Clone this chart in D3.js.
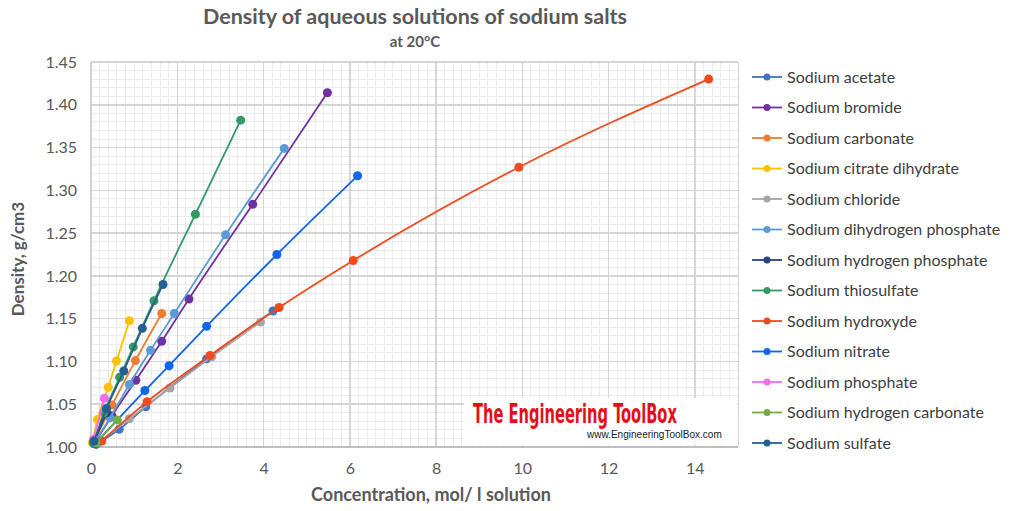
<!DOCTYPE html>
<html><head><meta charset="utf-8">
<script src="https://cdn.jsdelivr.net/npm/d3@7"></script>
<style>body{margin:0;background:#fff}svg{display:block}</style>
</head><body><svg id="c" width="1012" height="511"></svg>
<script>
const seriesNames = ["Sodium acetate","Sodium bromide","Sodium carbonate","Sodium citrate dihydrate","Sodium chloride","Sodium dihydrogen phosphate","Sodium hydrogen phosphate","Sodium thiosulfate","Sodium hydroxyde","Sodium nitrate","Sodium phosphate","Sodium hydrogen carbonate","Sodium sulfate"];
const seriesColors = ["#4472C4","#7030A0","#ED7D31","#FFC000","#A5A5A5","#5B9BD5","#264478","#339966","#F24A1B","#0F66E8","#F76BF0","#70AD47","#255E91"];
// concentration (mol/l solution)
const acetateX = [0.12,0.655,1.27,2.68,4.22];
const acetateY = [1.003,1.0207,1.047,1.103,1.159];
const bromideX = [0.1,0.485,1.04,1.64,2.27,3.75,5.48];
const bromideY = [1.006,1.0366,1.078,1.1235,1.173,1.2836,1.414];
const carbonateX = [0.09,0.49,1.03,1.64];
const carbonateY = [1.008,1.049,1.101,1.156];
const citrateX = [0.03,0.15,0.40,0.59,0.89];
const citrateY = [1.005,1.032,1.0697,1.1005,1.1476];
const chlorideX = [0.17,0.89,1.83,2.8,3.93];
const chlorideY = [1.005,1.033,1.069,1.1055,1.146];
const dihydrogenPhosX = [0.08,0.44,0.89,1.38,1.93,3.12,4.48];
const dihydrogenPhosY = [1.005,1.034,1.073,1.113,1.156,1.248,1.349];
const hydrogenPhosX = [0.07,0.36];
const hydrogenPhosY = [1.006,1.040];
const thiosulfateX = [0.06,0.3,0.665,0.98,1.46,2.42,3.47];
const thiosulfateY = [1.004,1.04,1.0814,1.117,1.171,1.272,1.382];
const hydroxydeX = [0.25,1.3,2.76,4.36,6.08,9.92,14.32];
const hydroxydeY = [1.007,1.053,1.107,1.163,1.218,1.327,1.43];
const nitrateX = [0.1,1.25,1.81,2.68,4.31,6.18];
const nitrateY = [1.004,1.066,1.095,1.141,1.225,1.317];
const phosphateX = [0.06,0.31];
const phosphateY = [1.009,1.057];
const hydrogenCarbX = [0.12,0.61];
const hydrogenCarbY = [1.005,1.0315];
const sulfateX = [0.07,0.36,0.76,1.19,1.67];
const sulfateY = [1.007,1.045,1.0888,1.1387,1.19];
const seriesX = [acetateX,bromideX,carbonateX,citrateX,chlorideX,dihydrogenPhosX,hydrogenPhosX,thiosulfateX,hydroxydeX,nitrateX,phosphateX,hydrogenCarbX,sulfateX];
const seriesY = [acetateY,bromideY,carbonateY,citrateY,chlorideY,dihydrogenPhosY,hydrogenPhosY,thiosulfateY,hydroxydeY,nitrateY,phosphateY,hydrogenCarbY,sulfateY];
const xTicks = [0,2,4,6,8,10,12,14];
const yTicks = [1.00,1.05,1.10,1.15,1.20,1.25,1.30,1.35,1.40,1.45];

const svg = d3.select("#c");
const L=91,R=738,T=62,B=447;
const x = d3.scaleLinear().domain([0,15]).range([L,R]);
const y = d3.scaleLinear().domain([1.00,1.45]).range([B,T]);
const font = "Lato, 'Open Sans', sans-serif";

// minor grid
const g = svg.append("g");
g.selectAll("line.mx").data(d3.range(0,15.001,0.2)).join("line")
 .attr("x1",d=>x(d)).attr("x2",d=>x(d)).attr("y1",T).attr("y2",B)
 .attr("stroke","#ECECEC").attr("stroke-width",1).attr("shape-rendering","crispEdges");
g.selectAll("line.my").data(d3.range(0,46).map(i=>1+i*0.01)).join("line")
 .attr("y1",d=>y(d)).attr("y2",d=>y(d)).attr("x1",L).attr("x2",R)
 .attr("stroke","#ECECEC").attr("stroke-width",1).attr("shape-rendering","crispEdges");
// major grid
g.selectAll("line.Mx").data(xTicks).join("line")
 .attr("x1",d=>x(d)).attr("x2",d=>x(d)).attr("y1",T).attr("y2",B)
 .attr("stroke","#D6D6D6").attr("stroke-width",1.5).attr("shape-rendering","crispEdges");
g.selectAll("line.My").data(yTicks).join("line")
 .attr("y1",d=>y(d)).attr("y2",d=>y(d)).attr("x1",L).attr("x2",R)
 .attr("stroke","#D6D6D6").attr("stroke-width",1.5).attr("shape-rendering","crispEdges");
svg.append("line").attr("x1",R).attr("x2",R).attr("y1",T).attr("y2",B).attr("stroke","#D6D6D6").attr("shape-rendering","crispEdges");
svg.append("line").attr("x1",L).attr("x2",R).attr("y1",B).attr("y2",B).attr("stroke","#BFBFBF").attr("stroke-width",1.5).attr("shape-rendering","crispEdges");
svg.append("line").attr("x1",L).attr("x2",L).attr("y1",T).attr("y2",B).attr("stroke","#D0D0D0").attr("stroke-width",1.5).attr("shape-rendering","crispEdges");

// watermark box
svg.append("rect").attr("x",464).attr("y",398).attr("width",R-464-1).attr("height",B-398-2).attr("fill","#fff");
function fitText(txt, x0, yBase, targetW, capSize, family, weight, fill){
  const t = svg.append("text").attr("font-family",family).attr("font-weight",weight).attr("font-size",capSize).attr("fill",fill).text(txt);
  const w = t.node().getComputedTextLength();
  const fs = capSize*targetW/w;
  t.attr("font-size",fs).attr("transform",`translate(${x0},${yBase}) scale(1,${capSize/fs})`);
  return t;
}
fitText("The Engineering ToolBox",473,423,204,27,"'Liberation Sans Narrow','DejaVu Sans Condensed',sans-serif","bold","#E3101A");
fitText("www.EngineeringToolBox.com",587,438,135,10,"'Liberation Sans',sans-serif","normal","#222");

// axes labels
const xa = d3.axisBottom(x).tickValues(xTicks).tickSize(0).tickPadding(16).tickFormat(d3.format("d"));
const xg = svg.append("g").attr("transform",`translate(0,${B})`).call(xa);
xg.select(".domain").remove();
xg.selectAll("text").attr("font-family",font).attr("font-size",16).attr("fill","#595959");
const ya = d3.axisLeft(y).tickValues(yTicks).tickSize(0).tickPadding(14).tickFormat(d3.format(".2f"));
const yg = svg.append("g").attr("transform",`translate(${L},0)`).call(ya);
yg.select(".domain").remove();
yg.selectAll("text").attr("font-family",font).attr("font-size",16).attr("fill","#595959");

// series
const line = d3.line().curve(d3.curveMonotoneX).x(d=>x(d[0])).y(d=>y(d[1]));
seriesNames.forEach((n,i)=>{
  const pts = seriesX[i].map((v,j)=>[v,seriesY[i][j]]);
  const sg = svg.append("g");
  sg.append("path").attr("d",line(pts)).attr("fill","none").attr("stroke",seriesColors[i]).attr("stroke-width",1.8);
  sg.selectAll("circle").data(pts).join("circle").attr("cx",d=>x(d[0])).attr("cy",d=>y(d[1])).attr("r",4.5).attr("fill",seriesColors[i]);
});

// titles
svg.append("text").attr("x",415).attr("y",24).attr("text-anchor","middle").attr("font-family",font).attr("font-weight","bold")
 .attr("font-size",21.5).attr("fill","#595959").text("Density of aqueous solutions of sodium salts");
svg.append("text").attr("x",415).attr("y",47).attr("text-anchor","middle").attr("font-family",font).attr("font-weight","bold")
 .attr("font-size",15).attr("fill","#595959").text("at 20°C");
svg.append("text").attr("transform","translate(24,259) rotate(-90)").attr("text-anchor","middle").attr("font-family",font).attr("font-weight","bold")
 .attr("font-size",17).attr("fill","#595959").text("Density, g/cm3");
svg.append("text").attr("x",431).attr("y",501).attr("text-anchor","middle").attr("font-family",font).attr("font-weight","bold")
 .attr("font-size",18).attr("fill","#595959").text("Concentration,  mol/ l solution");

// legend
const lg = svg.append("g");
seriesNames.forEach((n,i)=>{
  const yy = 77 + i*30.5;
  lg.append("line").attr("x1",752).attr("x2",782).attr("y1",yy).attr("y2",yy).attr("stroke",seriesColors[i]).attr("stroke-width",1.8);
  lg.append("circle").attr("cx",767).attr("cy",yy).attr("r",3.5).attr("fill",seriesColors[i]);
  lg.append("text").attr("x",787).attr("y",yy+5.5).attr("font-family",font).attr("font-size",16).attr("fill","#404040").text(n);
});
</script></body></html>
